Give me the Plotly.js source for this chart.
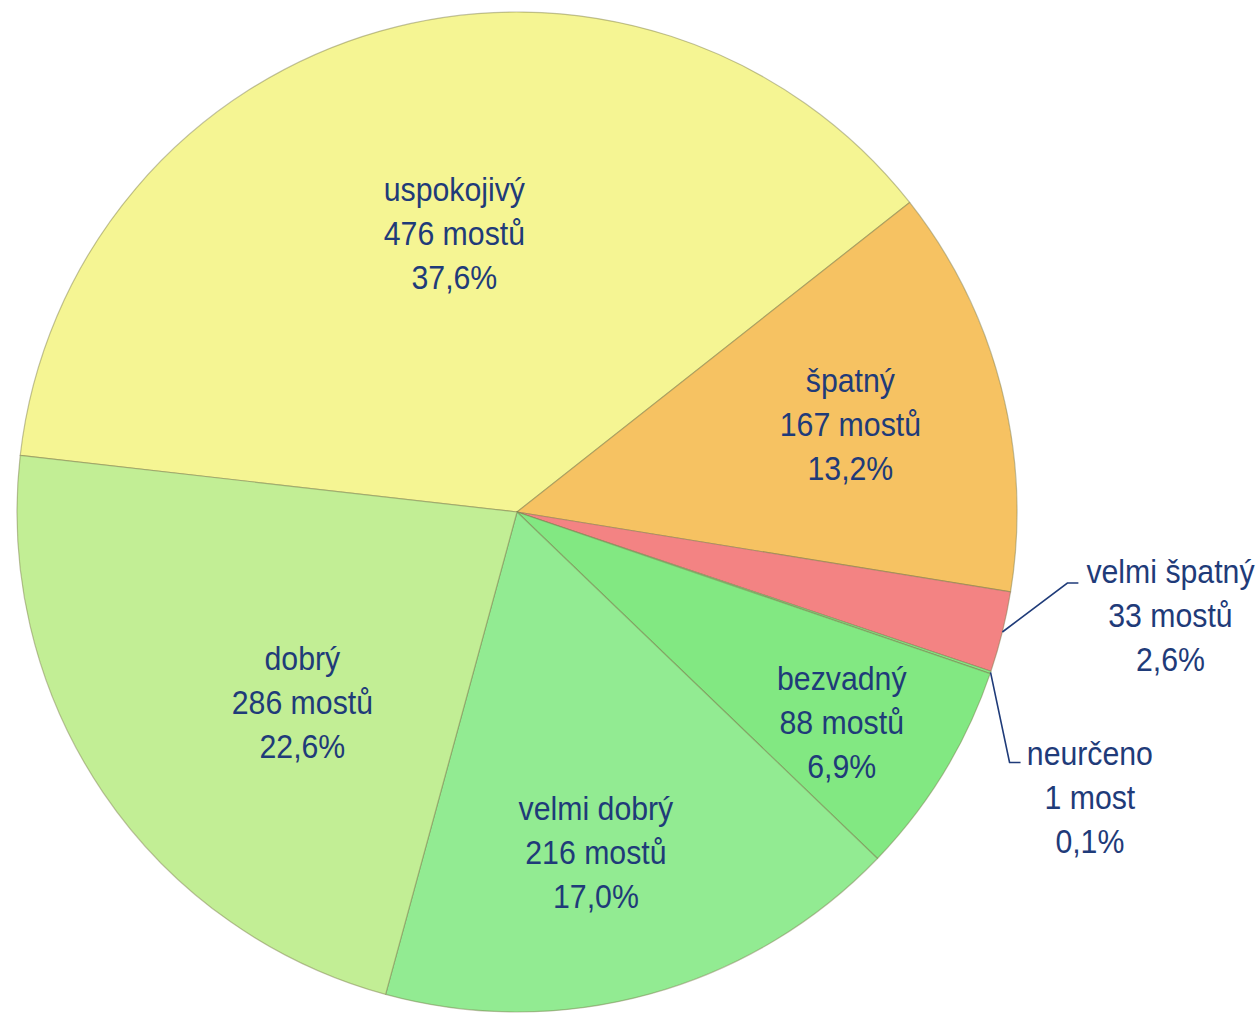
<!DOCTYPE html>
<html>
<head>
<meta charset="utf-8">
<script src="https://cdn.plot.ly/plotly-3.0.1.min.js"></script>
<style>html,body{margin:0;padding:0;background:#fff;}#chart{width:1260px;height:1015px;}</style>
</head>
<body>
<div id="chart"></div>
<script>
// Data
const categories = ["uspokojivý", "špatný", "velmi špatný", "neurčeno", "bezvadný", "velmi dobrý", "dobrý"];
const counts = [476, 167, 33, 1, 88, 216, 286];
const units = ["mostů", "mostů", "mostů", "most", "mostů", "mostů", "mostů"];
const colors = ["#F5F593", "#F6C262", "#F38383", "#86E886", "#82E882", "#92EB92", "#C2EE95"];

// Layout (label centres in pixels; leader elbows as pixel offsets from the slice rim)
const labelCentres = {
  "uspokojivý": [454, 233], "špatný": [850, 424], "velmi špatný": [1170, 615],
  "neurčeno": [1090, 797], "bezvadný": [842, 722], "velmi dobrý": [596, 852], "dobrý": [302, 702]
};
const leaderElbows = {"velmi špatný": [[65, -49], [76, -49]], "neurčeno": [[19, 90], [30, 90]]};

const W = 1260, H = 1015;
const cx = 517, cy = 512, R = 500;
const rotation = 276.5;
const textColor = "#1F3B79";
const fontFam = "'Liberation Sans', Arial, sans-serif";
const fontSize = 34, squeeze = 0.89;

const total = counts.reduce((a, b) => a + b, 0);
const pctText = v => (v / total * 100).toFixed(1).replace('.', ',') + '%';
const toPaper = (px, py) => [px / W, 1 - py / H];

const trace = {
  type: 'pie',
  labels: categories,
  values: counts,
  sort: false,
  direction: 'clockwise',
  rotation: rotation,
  domain: {x: [(cx - R) / W, (cx + R) / W], y: [1 - (cy + R) / H, 1 - (cy - R) / H]},
  marker: {colors: colors, line: {color: 'rgba(120,120,70,0.45)', width: 1.2}},
  textinfo: 'none',
  hoverinfo: 'label+value+percent',
  showlegend: false
};

const annotations = [];
const shapes = [];
let cum = 0;
categories.forEach((c, i) => {
  const a0 = cum;
  cum += counts[i];
  const [lx, ly] = toPaper(labelCentres[c][0], labelCentres[c][1]);
  annotations.push({
    xref: 'paper', yref: 'paper', x: lx, y: ly,
    xanchor: 'center', yanchor: 'middle', showarrow: false,
    text: c + '<br>' + counts[i] + ' ' + units[i] + '<br>' + pctText(counts[i]),
    font: {family: fontFam, size: fontSize, color: textColor},
    align: 'center'
  });
  if (leaderElbows[c]) {
    const mid = (rotation + (a0 + counts[i] / 2) / total * 360) * Math.PI / 180;
    const px = cx + R * Math.sin(mid), py = cy - R * Math.cos(mid);
    const pts = [[px, py]].concat(leaderElbows[c].map(o => [px + o[0], py + o[1]]));
    const path = pts.map((p, k) => {
      const q = toPaper(p[0], p[1]);
      return (k ? 'L ' : 'M ') + q[0] + ',' + q[1];
    }).join(' ');
    shapes.push({type: 'path', xref: 'paper', yref: 'paper', path: path,
      line: {color: textColor, width: 1.6}});
  }
});

const layout = {
  width: W, height: H,
  margin: {l: 0, r: 0, t: 0, b: 0},
  paper_bgcolor: '#fff',
  separators: ', ',
  annotations: annotations,
  shapes: shapes
};

Plotly.newPlot('chart', [trace], layout, {displayModeBar: false, staticPlot: true}).then(() => {
  document.querySelectorAll('#chart text.annotation-text').forEach(t => {
    const b = t.getBBox();
    const c = b.x + b.width / 2;
    t.setAttribute('transform', 'translate(' + c + ',0) scale(' + squeeze + ',1) translate(' + (-c) + ',0)');
  });
});
</script>
</body>
</html>
